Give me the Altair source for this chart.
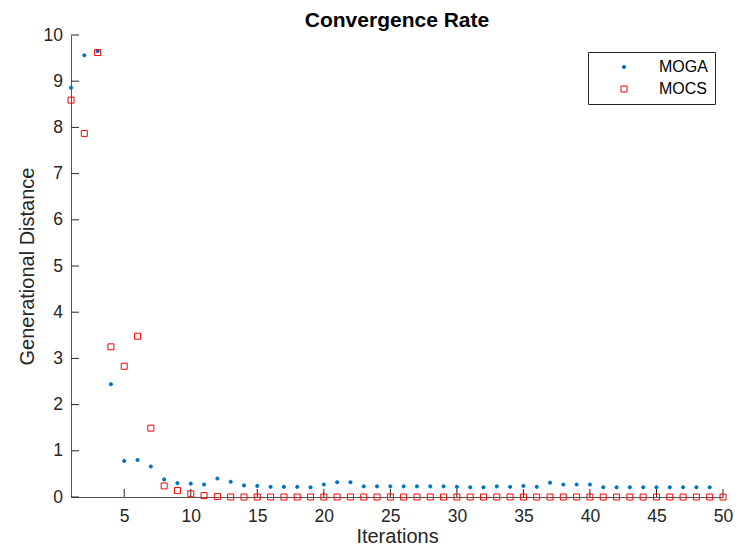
import altair as alt
import pandas as pd

# ---- data ----
moga_gd = [8.86, 9.56, 9.65, 2.44, 0.78, 0.80, 0.66, 0.38, 0.30, 0.29,
           0.27, 0.40, 0.33, 0.25, 0.24, 0.22, 0.22, 0.22, 0.21, 0.27,
           0.32, 0.32, 0.23, 0.23, 0.23, 0.23, 0.23, 0.23, 0.23, 0.22,
           0.21, 0.21, 0.23, 0.22, 0.24, 0.22, 0.31, 0.27, 0.27, 0.27,
           0.21, 0.21, 0.21, 0.21, 0.21, 0.21, 0.21, 0.21, 0.21]
mocs_gd = [8.59, 7.87, 9.62, 3.25, 2.83, 3.48, 1.49, 0.24, 0.14, 0.07,
           0.03, 0.01, 0.00, 0.00, 0.00, 0.00, 0.00, 0.00, 0.00, 0.00,
           0.00, 0.00, 0.00, 0.00, 0.00, 0.00, 0.00, 0.00, 0.00, 0.00,
           0.00, 0.00, 0.00, 0.00, 0.00, 0.00, 0.00, 0.00, 0.00, 0.00,
           0.00, 0.00, 0.00, 0.00, 0.00, 0.00, 0.00, 0.00, 0.00, 0.00]
series_names = ["MOGA", "MOCS"]
series_colors = ["#0072BD", "#FF0000"]
x_ticks = [5, 10, 15, 20, 25, 30, 35, 40, 45, 50]
y_ticks = [0, 1, 2, 3, 4, 5, 6, 7, 8, 9, 10]

rows = [{"Iteration": i + 1, "GD": v, "series": "MOGA"} for i, v in enumerate(moga_gd)]
rows += [{"Iteration": i + 1, "GD": v, "series": "MOCS"} for i, v in enumerate(mocs_gd)]
df = pd.DataFrame(rows)

W, H = 652, 462
FONT = "Liberation Sans"
TXT = "#262626"
AXC = "#555555"

x_scale = alt.Scale(domain=[1, 50], nice=False, zero=False)
y_scale = alt.Scale(domain=[0, 10], nice=False, zero=False)

x_axis = alt.Axis(values=x_ticks, title="Iterations", grid=False, ticks=False, tickSize=0,
                  domainColor=AXC, domainWidth=1, labelFont=FONT, labelFontSize=17.5,
                  labelColor=TXT, labelPadding=24, labelBaseline="alphabetic",
                  labelFlush=False, labelOverlap=False, titleFont=FONT, titleFontSize=20,
                  titleFontWeight="normal", titleColor=TXT, titleBaseline="alphabetic",
                  titleY=45)
y_axis = alt.Axis(values=y_ticks, title="Generational Distance", grid=False, ticks=False,
                  tickSize=0, domainColor=AXC, domainWidth=1, labelFont=FONT,
                  labelFontSize=17.5, labelColor=TXT, labelPadding=8.5,
                  labelBaseline="middle", labelFlush=False, labelOverlap=False,
                  titleFont=FONT, titleFontSize=20, titleFontWeight="normal",
                  titleColor=TXT, titleBaseline="alphabetic", titleAngle=270,
                  titleX=-38, titleY=H / 2)

points = alt.Chart(df).mark_point(strokeWidth=1, opacity=1).encode(
    x=alt.X("Iteration:Q", scale=x_scale, axis=x_axis),
    y=alt.Y("GD:Q", scale=y_scale, axis=y_axis),
    stroke=alt.Stroke("series:N", scale=alt.Scale(domain=series_names, range=series_colors), title=None),
    fill=alt.Fill("series:N", scale=alt.Scale(domain=series_names, range=[series_colors[0], "transparent"]), title=None),
    shape=alt.Shape("series:N", scale=alt.Scale(domain=series_names, range=["circle", "square"]), title=None),
    size=alt.Size("series:N", scale=alt.Scale(domain=series_names, range=[10, 36]), title=None),
)

xt = alt.Chart(pd.DataFrame({"Iteration": x_ticks})).mark_rule(color=TXT, strokeWidth=1).encode(
    x=alt.X("Iteration:Q", scale=x_scale, axis=x_axis),
    y=alt.value(H),
    y2=alt.value(H - 8),
)
yt = alt.Chart(pd.DataFrame({"GD": y_ticks})).mark_rule(color=TXT, strokeWidth=1).encode(
    y=alt.Y("GD:Q", scale=y_scale, axis=y_axis),
    x=alt.value(0),
    x2=alt.value(8),
)

chart = alt.layer(xt, yt, points).properties(
    width=W, height=H,
    title=alt.TitleParams("Convergence Rate", font=FONT, fontSize=21, fontWeight="bold",
                          color="#000000", baseline="alphabetic", offset=10, dy=32,
                          anchor="middle", frame="group"),
    autosize=alt.AutoSizeParams(type="none"),
    padding={"left": 63, "top": 27, "right": 10, "bottom": 50},
).configure_view(strokeWidth=0).configure_legend(
    orient="none", legendX=517, legendY=17, strokeColor="#262626", fillColor="white",
    padding=7, rowPadding=6, symbolOffset=21, labelOffset=27, labelFont=FONT,
    labelFontSize=16, labelColor="#000000", symbolStrokeWidth=1,
)

chart.save("out.html", embed_options={"renderer": "svg", "actions": False})
